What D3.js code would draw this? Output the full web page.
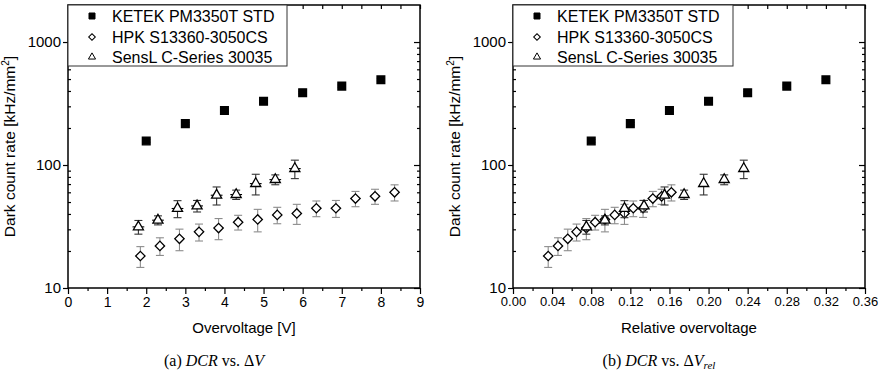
<!DOCTYPE html>
<html>
<head>
<meta charset="utf-8">
<script src="https://cdn.jsdelivr.net/npm/d3@7"></script>
<style>
  body { margin: 0; background: #fff; }
  svg { display: block; font-family: Arial, "Liberation Sans", sans-serif; }
  .cap { font-family: "Liberation Serif", "DejaVu Serif", serif; }
</style>
</head>
<body>
<svg id="chart" width="889" height="377"></svg>
<script>
// ---- data ----
const seriesNames = ['KETEK PM3350T STD', 'HPK S13360-3050CS', 'SensL C-Series 30035'];

const ketekDV = [2, 3, 4, 5, 6, 7, 8];
const ketekRel = [0.08, 0.12, 0.16, 0.20, 0.24, 0.28, 0.32];
const ketekDCR = [157, 217, 278, 330, 387, 438, 493];
const ketekErr = [4, 5, 6, 7, 8, 9, 10];

const hpkDV = [1.85, 2.35, 2.85, 3.35, 3.85, 4.35, 4.85, 5.35, 5.85, 6.35, 6.85, 7.35, 7.85, 8.35];
const hpkRel = [0.036, 0.046, 0.056, 0.065, 0.075, 0.084, 0.094, 0.104, 0.114, 0.123, 0.133, 0.143, 0.152, 0.162];
const hpkDCR = [18.2, 22.0, 25.1, 28.6, 30.7, 34.3, 36.1, 39.3, 40.4, 44.5, 44.5, 53.4, 55.7, 60.0];
const hpkErr = [3.5, 3.6, 5, 4.5, 6, 4.7, 7.5, 6, 7.5, 6.5, 7, 7.6, 7.8, 9];

const senslDV = [1.8, 2.3, 2.8, 3.3, 3.8, 4.3, 4.8, 5.3, 5.8];
const senslRel = [0.075, 0.094, 0.114, 0.134, 0.155, 0.175, 0.195, 0.216, 0.236];
const senslDCR = [31.4, 35.6, 44.3, 46.5, 56.8, 57.5, 70.6, 76.1, 93.5];
const senslErr = [4, 3, 7, 5, 9.5, 5, 13.5, 7, 16];

const xTicksA = [0, 1, 2, 3, 4, 5, 6, 7, 8, 9];
const xTicksB = [0, 0.04, 0.08, 0.12, 0.16, 0.20, 0.24, 0.28, 0.32, 0.36];
const yTicks = [10, 100, 1000];

const svg = d3.select('#chart');

function panel(o) {
  const x = d3.scaleLinear().domain(o.xDomain).range([o.left, o.right]);
  const y = d3.scaleLog().domain([10, 2000]).range([288, 5]);
  const g = svg.append('g');

  const step = o.xTicks[1] - o.xTicks[0];
  const xMinor = d3.range(o.xTicks.length - 1).map(i => o.xTicks[i] + step / 2);
  const yMinor = [];
  [10, 100, 1000].forEach(d => { for (let k = 2; k <= 9; k++) if (d * k < 2000) yMinor.push(d * k); });

  // axes
  const bottom = g.append('g').attr('transform', 'translate(0,288)')
    .call(d3.axisBottom(x).tickValues(o.xTicks).tickFormat(o.xFormat).tickSize(6).tickSizeOuter(0).tickPadding(3));
  bottom.selectAll('text').style('font-size', o.xTickFont);
  g.append('g').attr('transform', 'translate(0,288)')
    .call(d3.axisBottom(x).tickValues(xMinor).tickFormat('').tickSize(3).tickSizeOuter(0));
  g.append('g').attr('transform', 'translate(0,5)')
    .call(d3.axisTop(x).tickValues(o.xTicks.concat(xMinor)).tickFormat('').tickSize(-4).tickSizeOuter(0));

  const left = g.append('g').attr('transform', `translate(${o.left},0)`)
    .call(d3.axisLeft(y).tickValues(yTicks).tickFormat(d3.format('d')).tickSize(5).tickSizeOuter(0).tickPadding(2));
  left.selectAll('text').style('font-size', '15px');
  g.append('g').attr('transform', `translate(${o.left},0)`)
    .call(d3.axisLeft(y).tickValues(yMinor).tickFormat('').tickSize(-3).tickSizeOuter(0));
  g.append('g').attr('transform', `translate(${o.right},0)`)
    .call(d3.axisRight(y).tickValues(yTicks).tickFormat('').tickSize(-6).tickSizeOuter(0));
  g.append('g').attr('transform', `translate(${o.right},0)`)
    .call(d3.axisRight(y).tickValues(yMinor).tickFormat('').tickSize(-3).tickSizeOuter(0));

  g.selectAll('.domain').remove();
  g.selectAll('.tick line').attr('stroke', '#000').attr('stroke-width', 1.2);
  g.selectAll('.tick text').attr('fill', '#000').style('font-family', 'Arial, "Liberation Sans", sans-serif');

  g.append('rect').attr('x', o.left).attr('y', 5)
    .attr('width', o.right - o.left).attr('height', 283)
    .attr('fill', 'none').attr('stroke', '#000').attr('stroke-width', 1.5);

  // titles
  g.append('text').attr('x', (o.left + o.right) / 2).attr('y', 333)
    .attr('text-anchor', 'middle').style('font-size', '15px').text(o.xTitle);
  const yt = g.append('text')
    .attr('transform', `translate(${o.left - 53},${(5 + 288) / 2}) rotate(-90)`)
    .attr('text-anchor', 'middle').style('font-size', '15.5px');
  yt.append('tspan').text('Dark count rate [kHz/mm');
  yt.append('tspan').attr('dy', -6).style('font-size', '10px').text('2');
  yt.append('tspan').attr('dy', 6).text(']');

  // data
  const sets = [
    { xs: o.ketekX, ys: ketekDCR, err: ketekErr, xerr: 0, sym: d3.symbolSquare, size: 60, fill: '#000', rot: 0, bar: '#000' },
    { xs: o.hpkX, ys: hpkDCR, err: hpkErr, xerr: o.hpkXErr, sym: d3.symbolSquare, size: 44, fill: '#fff', rot: 45, bar: '#8c8c8c' },
    { xs: o.senslX, ys: senslDCR, err: senslErr, xerr: o.senslXErr, sym: d3.symbolTriangle, size: 44, fill: '#fff', rot: 0, bar: '#333' }
  ];

  sets.forEach(s => {
    const pts = s.xs.map((v, i) => ({ x: v, y: s.ys[i], e: s.err[i] }));
    const eb = g.append('g').attr('stroke', s.bar).attr('stroke-width', 1.1);
    pts.forEach(p => {
      const cx = x(p.x);
      const yt = y(p.y + p.e), yb = y(p.y - p.e);
      eb.append('line').attr('x1', cx).attr('x2', cx).attr('y1', yt).attr('y2', yb);
      eb.append('line').attr('x1', cx - 4).attr('x2', cx + 4).attr('y1', yt).attr('y2', yt);
      eb.append('line').attr('x1', cx - 4).attr('x2', cx + 4).attr('y1', yb).attr('y2', yb);
      if (s.xerr) {
        eb.append('line').attr('x1', x(p.x - s.xerr)).attr('x2', x(p.x + s.xerr))
          .attr('y1', y(p.y)).attr('y2', y(p.y)).attr('stroke', '#000');
      }
    });
    g.append('g').selectAll('path').data(pts).enter().append('path')
      .attr('d', d3.symbol().type(s.sym).size(s.size))
      .attr('transform', d => `translate(${x(d.x)},${y(d.y)}) rotate(${s.rot})`)
      .attr('fill', s.fill).attr('stroke', '#000').attr('stroke-width', 1.3);
  });

  // legend
  const lg = g.append('g');
  lg.append('rect').attr('x', o.left).attr('y', 5).attr('width', o.legendW).attr('height', 61)
    .attr('fill', '#fff').attr('stroke', '#333').attr('stroke-width', 1);
  const rowY = [16, 37, 57];
  seriesNames.forEach((name, i) => {
    const s = sets[i];
    lg.append('path')
      .attr('d', d3.symbol().type(s.sym).size(i === 0 ? 36 : 22))
      .attr('transform', `translate(${o.left + 24},${rowY[i]}) rotate(${s.rot})`)
      .attr('fill', s.fill).attr('stroke', '#000').attr('stroke-width', 1);
    lg.append('text').attr('x', o.left + 44).attr('y', rowY[i] + 6)
      .style('font-size', '16px').text(name);
  });

  // caption
  const cap = svg.append('text').attr('class', 'cap')
    .attr('x', (o.left + o.right) / 2 - 30).attr('y', 366)
    .attr('text-anchor', 'middle').style('font-size', '16px');
  cap.append('tspan').text(o.capLabel + ' ');
  cap.append('tspan').style('font-style', 'italic').text('DCR');
  cap.append('tspan').text(' vs. Δ');
  cap.append('tspan').style('font-style', 'italic').text('V');
  if (o.capSub) cap.append('tspan').attr('dy', 3).style('font-style', 'italic').style('font-size', '11px').text(o.capSub);
}

panel({
  left: 68, right: 420, xDomain: [0, 9], xTicks: xTicksA, xFormat: d3.format('d'),
  xTitle: 'Overvoltage [V]', legendW: 219, xTickFont: '14px',
  ketekX: ketekDV, hpkX: hpkDV, senslX: senslDV, hpkXErr: 0.1, senslXErr: 0.15,
  capLabel: '(a)', capSub: ''
});
panel({
  left: 513, right: 865, xDomain: [0, 0.36], xTicks: xTicksB, xFormat: d3.format('.2f'),
  xTitle: 'Relative overvoltage', legendW: 220, xTickFont: '13px',
  ketekX: ketekRel, hpkX: hpkRel, senslX: senslRel, hpkXErr: 0, senslXErr: 0,
  capLabel: '(b)', capSub: 'rel'
});
</script>
</body>
</html>
